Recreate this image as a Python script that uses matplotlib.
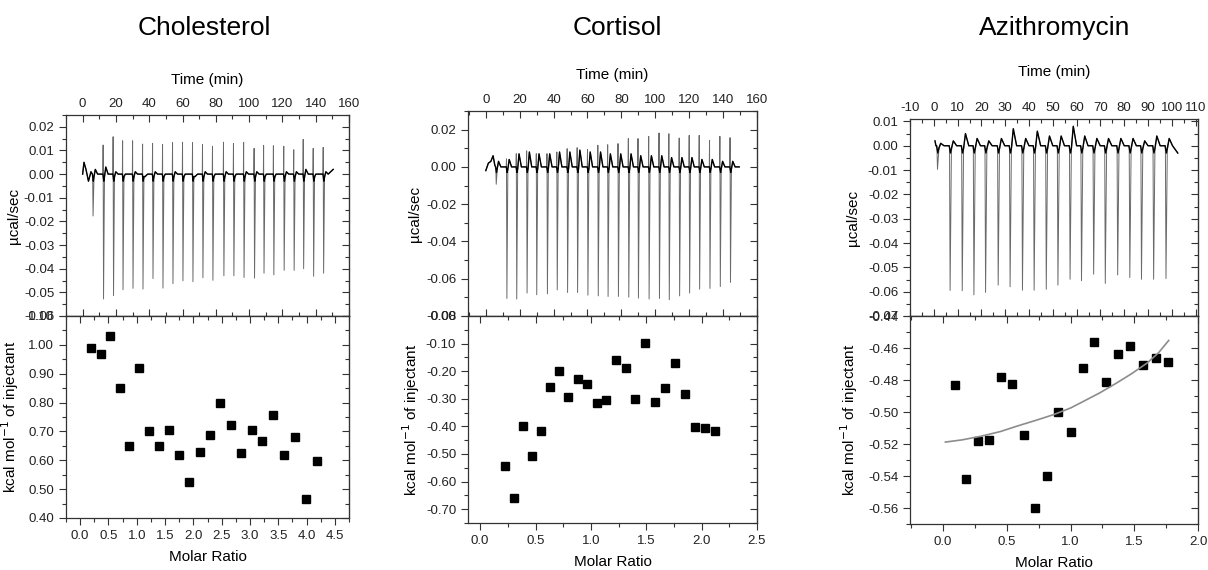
import numpy as np
import matplotlib
matplotlib.use("Agg")
import matplotlib.pyplot as plt
from matplotlib.ticker import MultipleLocator, FormatStrFormatter

plt.rcParams["font.family"] = ["Liberation Sans", "DejaVu Sans"]
plt.rcParams["axes.unicode_minus"] = False

# ---- Cholesterol ----
chol_pre_t = [0, 0.8, 2, 3.5, 5]
chol_pre_v = [0.0, 0.005, 0.002, -0.003, 0.001]
chol_inj_t = [6, 12.3, 18.3, 24, 30, 36, 42, 48, 54, 60, 66, 72, 78, 84.6, 90.6,
              96.7, 103, 108.7, 114.6, 120.8, 126.8, 132.5, 138.5, 144.5]
chol_inj_hi = [0.0, 0.0123, 0.0158, 0.0141, 0.0141, 0.0127, 0.0130, 0.0125, 0.0133,
               0.0135, 0.0133, 0.0125, 0.0118, 0.0135, 0.0130, 0.0134, 0.0109, 0.0121,
               0.0120, 0.0118, 0.0103, 0.0147, 0.0109, 0.0113]
chol_inj_lo = [-0.0177, -0.0528, -0.0514, -0.0489, -0.0483, -0.0486, -0.0442, -0.0482,
               -0.0463, -0.0451, -0.0455, -0.0438, -0.0449, -0.0430, -0.0430, -0.0437,
               -0.0440, -0.0419, -0.0426, -0.0407, -0.0407, -0.0400, -0.0432, -0.0419]
chol_hump = [0.002, 0.003, 0.001, 0.0, 0.001, -0.001, 0.001, 0.0, 0.001, 0.0, -0.001,
             0.001, 0.0, 0.001, 0.0, 0.001, 0.001, 0.0, 0.0, 0.001, 0.001, 0.002, 0.0, 0.001]
chol_end = (150.5, 0.002)
chol_ratio = [0.19, 0.36, 0.53, 0.70, 0.87, 1.04, 1.21, 1.40, 1.57, 1.75, 1.93, 2.11,
              2.29, 2.47, 2.66, 2.84, 3.03, 3.22, 3.41, 3.60, 3.79, 3.99, 4.18]
chol_heat = [0.990, 0.968, 1.032, 0.850, 0.649, 0.919, 0.700, 0.649, 0.705, 0.617,
             0.526, 0.629, 0.689, 0.798, 0.722, 0.624, 0.705, 0.667, 0.758, 0.617,
             0.681, 0.467, 0.596]

# ---- Cortisol ----
cort_pre_t = [0, 1.5, 3, 4.3, 5.3]
cort_pre_v = [-0.002, 0.002, 0.003, 0.006, 0.001]
cort_inj_t = [5.9, 12.2, 18.0, 24.1, 29.8, 36.1, 41.9, 48.0, 53.9, 60.0, 66.1, 71.9,
              78.0, 84.1, 89.8, 96.1, 102.2, 108.0, 114.1, 120.0, 125.9, 132.0, 138.1, 144.1]
cort_inj_hi = [0.0, 0.0043, 0.0071, 0.0086, 0.0071, 0.0071, 0.0080, 0.0098, 0.0103,
               0.0093, 0.0116, 0.0119, 0.0125, 0.0152, 0.0152, 0.0164, 0.0182, 0.0178,
               0.0155, 0.0169, 0.0169, 0.0143, 0.0164, 0.0157]
cort_inj_lo = [-0.0093, -0.0706, -0.0709, -0.0677, -0.0686, -0.0681, -0.0660, -0.0674,
               -0.0674, -0.0688, -0.0692, -0.0695, -0.0695, -0.0699, -0.0704, -0.0709,
               -0.0706, -0.0713, -0.0692, -0.0677, -0.0656, -0.0652, -0.0642, -0.0620]
cort_hump = [0.003, 0.004, 0.007, 0.008, 0.007, 0.007, 0.008, 0.008, 0.009, 0.008,
             0.008, 0.007, 0.007, 0.007, 0.006, 0.006, 0.006, 0.005, 0.005, 0.005,
             0.004, 0.004, 0.003, 0.003]
cort_end = (149.5, 0.0)
cort_ratio = [0.225, 0.306, 0.388, 0.469, 0.550, 0.631, 0.715, 0.796, 0.880, 0.968,
              1.055, 1.136, 1.226, 1.313, 1.400, 1.487, 1.578, 1.665, 1.758, 1.851,
              1.941, 2.031, 2.124]
cort_heat = [-0.544, -0.661, -0.400, -0.507, -0.416, -0.256, -0.200, -0.293, -0.227,
             -0.247, -0.317, -0.306, -0.158, -0.188, -0.302, -0.098, -0.312, -0.261,
             -0.172, -0.284, -0.402, -0.407, -0.415]

# ---- Azithromycin ----
azi_pre_t = [0.5, 0.9]
azi_pre_v = [0.002, 0.0]
azi_inj_t = [1.3, 6.6, 11.7, 16.6, 21.5, 26.8, 31.8, 37.0, 41.9, 47.0, 51.9, 57.0,
             61.8, 66.9, 71.8, 77.0, 82.1, 87.0, 92.1, 97.3]
azi_inj_hi = [0.0] * 20
azi_inj_lo = [-0.0097, -0.0595, -0.0596, -0.0613, -0.0603, -0.0573, -0.0580, -0.0594,
              -0.0594, -0.0590, -0.0573, -0.0549, -0.0555, -0.0528, -0.0566, -0.0531,
              -0.0542, -0.0549, -0.0549, -0.0546]
azi_hump = [0.001, 0.002, 0.005, 0.003, 0.002, 0.003, 0.007, 0.003, 0.006, 0.004,
            0.004, 0.008, 0.004, 0.003, 0.003, 0.003, 0.003, 0.002, 0.004, 0.003]
azi_end = (102.5, -0.003)
azi_ratio = [0.097, 0.183, 0.273, 0.362, 0.451, 0.540, 0.632, 0.723, 0.813, 0.904,
             1.001, 1.096, 1.187, 1.279, 1.376, 1.470, 1.570, 1.667, 1.764]
azi_heat = [-0.4833, -0.5421, -0.5182, -0.5173, -0.4783, -0.4827, -0.5145, -0.5602,
            -0.5400, -0.5001, -0.5122, -0.4725, -0.4565, -0.4812, -0.4637, -0.4585,
            -0.4708, -0.4660, -0.4685]
azi_fit_x = [0.018, 0.15, 0.30, 0.45, 0.577, 0.72, 0.865, 1.0, 1.10, 1.23, 1.363, 1.48, 1.599, 1.69, 1.77]
azi_fit_y = [-0.5188, -0.5174, -0.5151, -0.5122, -0.5089, -0.5054, -0.5017, -0.4975,
             -0.4934, -0.4880, -0.4818, -0.4760, -0.4695, -0.4630, -0.4553]

titles = ["Cholesterol", "Cortisol", "Azithromycin"]


def build_trace(pre_t, pre_v, inj_t, inj_hi, inj_lo, hump, end):
    # raw thermogram: spikes (gray) + baseline (black)
    st, sv = list(pre_t), list(pre_v)
    bt, bv = list(pre_t), list(pre_v)
    for t, hi, lo, h in zip(inj_t, inj_hi, inj_lo, hump):
        st += [t - 0.15, t, t + 0.25, t + 0.8, t + 1.6, t + 3.0]
        sv += [0.0, hi, lo, -0.002, h, 0.0]
        bt += [t - 0.15, t + 0.4, t + 0.8, t + 1.6, t + 3.0]
        bv += [0.0, -0.003, -0.001, h, 0.0]
    st.append(end[0]); sv.append(end[1])
    bt.append(end[0]); bv.append(end[1])
    return st, sv, bt, bv


fig = plt.figure(figsize=(12.08, 5.70), dpi=100)
W, H = 1208, 570

panels = [
    dict(l=66, r=349, top=115, mid=316, bot=518,
         trace=(chol_pre_t, chol_pre_v, chol_inj_t, chol_inj_hi, chol_inj_lo, chol_hump, chol_end),
         txlim=(-10, 160), txmaj=20, txmin=10,
         tylim=(-0.06, 0.025), tymaj=0.01, tymin=0.005,
         ratio=chol_ratio, heat=chol_heat,
         bxlim=(-0.25, 4.75), bylim=(0.40, 1.10), bymaj=0.10, bymin=0.05,
         title_x=204, tpad=10),
    dict(l=468, r=757, top=111, mid=316, bot=523,
         trace=(cort_pre_t, cort_pre_v, cort_inj_t, cort_inj_hi, cort_inj_lo, cort_hump, cort_end),
         txlim=(-10.5, 160), txmaj=20, txmin=10,
         tylim=(-0.08, 0.03), tymaj=0.02, tymin=0.01,
         ratio=cort_ratio, heat=cort_heat,
         bxlim=(-0.11, 2.5), bylim=(-0.75, 0.0), bymaj=0.10, bymin=0.05,
         title_x=617, tpad=11),
    dict(l=910, r=1198, top=119, mid=316, bot=524,
         trace=(azi_pre_t, azi_pre_v, azi_inj_t, azi_inj_hi, azi_inj_lo, azi_hump, azi_end),
         txlim=(-10, 111), txmaj=10, txmin=5,
         tylim=(-0.07, 0.011), tymaj=0.01, tymin=0.005,
         ratio=azi_ratio, heat=azi_heat,
         bxlim=(-0.26, 2.0), bylim=(-0.57, -0.44), bymaj=0.02, bymin=0.01,
         title_x=1055, tpad=19),
]

tick_kw = dict(labelsize=9.5, width=0.8, colors="#333333", labelcolor="#222222")


def mirror(sec, axis, maj, mnr):
    ax = sec.xaxis if axis == "x" else sec.yaxis
    ax.set_major_locator(MultipleLocator(maj))
    ax.set_minor_locator(MultipleLocator(mnr))
    sec.tick_params(which="both", direction="in", labelbottom=False, labeltop=False,
                    labelleft=False, labelright=False, width=0.8, colors="#333333")
    sec.tick_params(which="major", length=5)
    sec.tick_params(which="minor", length=3)


for i, p in enumerate(panels):
    left = p["l"] / W
    width = (p["r"] - p["l"]) / W
    ax1 = fig.add_axes([left, 1 - p["mid"] / H, width, (p["mid"] - p["top"]) / H])
    ax2 = fig.add_axes([left, 1 - p["bot"] / H, width, (p["bot"] - p["mid"]) / H])

    st, sv, bt, bv = build_trace(*p["trace"])
    ax1.plot(st, sv, color="#6a6a6a", lw=0.7)
    ax1.plot(bt, bv, color="black", lw=1.0)
    ax1.set_xlim(*p["txlim"])
    ax1.set_ylim(*p["tylim"])

    ax2.plot(p["ratio"], p["heat"], "s", color="black", ms=5.8, ls="none")
    if i == 2:
        ax2.plot(azi_fit_x, azi_fit_y, color="#8c8c8c", lw=1.2)
    ax2.set_xlim(*p["bxlim"])
    ax2.set_ylim(*p["bylim"])

    # top axes: time on top
    ax1.xaxis.set_ticks_position("top")
    ax1.xaxis.set_label_position("top")
    ax1.xaxis.set_major_locator(MultipleLocator(p["txmaj"]))
    ax1.xaxis.set_minor_locator(MultipleLocator(p["txmin"]))
    ax1.yaxis.set_major_locator(MultipleLocator(p["tymaj"]))
    ax1.yaxis.set_minor_locator(MultipleLocator(p["tymin"]))
    ax1.yaxis.set_major_formatter(FormatStrFormatter("%.2f"))
    ax1.tick_params(axis="x", which="both", direction="in", **tick_kw)
    ax1.tick_params(axis="y", which="both", direction="out", **tick_kw)
    ax1.tick_params(which="major", length=5)
    ax1.tick_params(which="minor", length=3)
    ax1.set_xlabel("Time (min)", fontsize=11, labelpad=p["tpad"])
    ax1.set_ylabel("µcal/sec", fontsize=11)
    ax1.yaxis.set_label_coords(-0.16 if i < 2 else -0.175, 0.5)

    # inward mirror ticks on bottom / right of the top axes
    mirror(ax1.secondary_xaxis("bottom"), "x", p["txmaj"], p["txmin"])
    mirror(ax1.secondary_yaxis("right"), "y", p["tymaj"], p["tymin"])

    # bottom axes: molar ratio
    ax2.xaxis.set_major_locator(MultipleLocator(0.5))
    ax2.xaxis.set_minor_locator(MultipleLocator(0.25))
    ax2.xaxis.set_major_formatter(FormatStrFormatter("%.1f"))
    ax2.yaxis.set_major_locator(MultipleLocator(p["bymaj"]))
    ax2.yaxis.set_minor_locator(MultipleLocator(p["bymin"]))
    ax2.yaxis.set_major_formatter(FormatStrFormatter("%.2f"))
    ax2.tick_params(which="both", direction="out", **tick_kw)
    ax2.tick_params(which="major", length=5)
    ax2.tick_params(which="minor", length=3)
    ax2.set_xlabel("Molar Ratio", fontsize=11, labelpad=6)
    ax2.set_ylabel("kcal mol$^{-1}$ of injectant", fontsize=11)
    ax2.yaxis.set_label_coords(-0.16 if i < 2 else -0.175, 0.5)

    mirror(ax2.secondary_xaxis("top"), "x", 0.5, 0.25)
    mirror(ax2.secondary_yaxis("right"), "y", p["bymaj"], p["bymin"])

    for ax in (ax1, ax2):
        for s in ax.spines.values():
            s.set_linewidth(0.9)
            s.set_color("#333333")

    fig.text(p["title_x"] / W, 1 - 28 / H, titles[i], ha="center", va="center", fontsize=19)

fig.savefig("out.png", dpi=100)
